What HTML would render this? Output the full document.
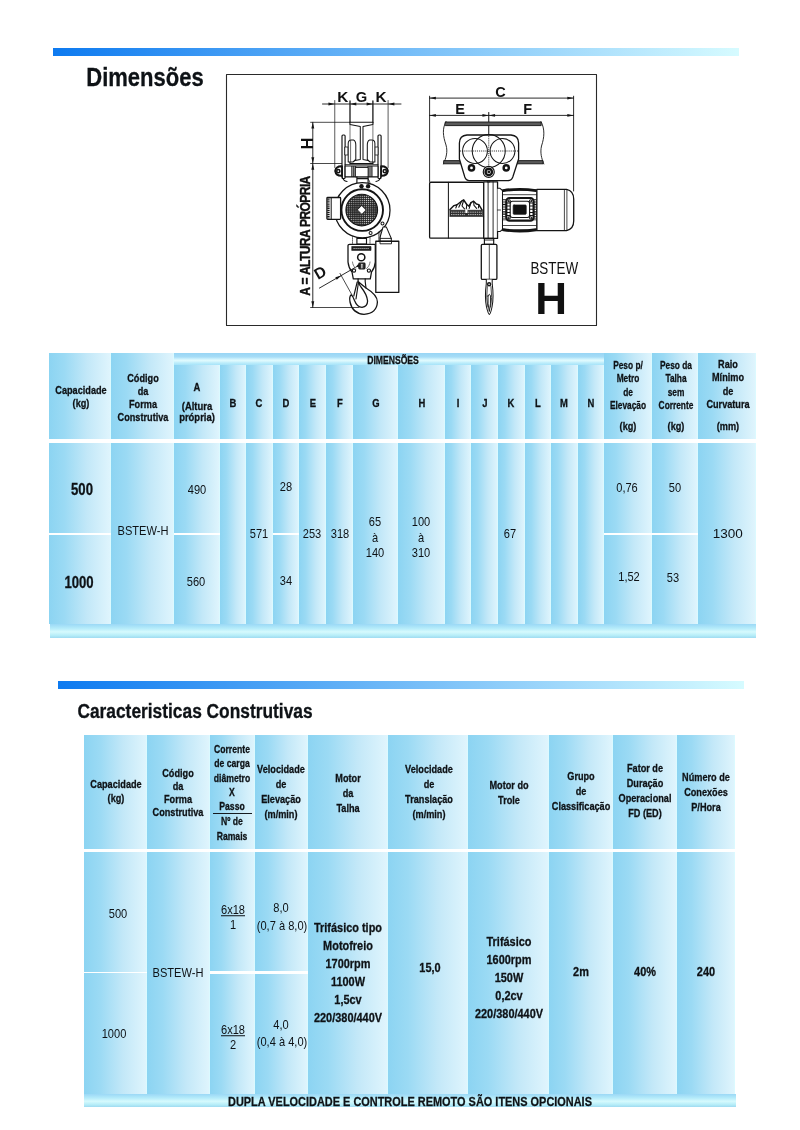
<!DOCTYPE html>
<html lang="pt"><head><meta charset="utf-8"><title>Dimensões</title>
<style>
html,body{margin:0;padding:0;background:#fff;}
body{width:800px;height:1130px;position:relative;overflow:hidden;font-family:"Liberation Sans",sans-serif;color:#0e1216;}
.t{position:absolute;white-space:nowrap;text-align:center;line-height:1.15;}
.c{position:absolute;background:linear-gradient(90deg,#8cd4f2 0%,#9bdaf4 25%,#c3e8f8 62%,#e0f5fd 100%);box-shadow:inset -1px 0 0 rgba(218,251,255,0.9);}
.bar{position:absolute;}
.hb{position:absolute;background:linear-gradient(180deg,#9bd8f6 0%,#b4ebfa 30%,#d6fafd 56%,#b6edf8 82%,#9fdbf1 100%);}
svg{position:absolute;left:0;top:0;}
#pg{position:absolute;left:0;top:0;width:800px;height:1130px;will-change:transform;}
</style></head><body><div id="pg">

<div class="bar" style="left:53px;top:47.5px;width:686px;height:8px;background:linear-gradient(90deg,#0d7af0,#d6fbff)"></div>
<div class="bar" style="left:58px;top:681px;width:686px;height:8.3px;background:linear-gradient(90deg,#0d7af0,#d6fbff)"></div>
<div class="t" style="left:145.2px;top:76.6px;font-size:26.5px;font-weight:700;-webkit-text-stroke:0.3px #0e1216;transform:translate(-50%,-50%) scaleX(0.831);">Dimensões</div>
<div class="t" style="left:195px;top:710.9px;font-size:20px;font-weight:700;-webkit-text-stroke:0.3px #0e1216;transform:translate(-50%,-50%) scaleX(0.867);">Caracteristicas Construtivas</div>
<div class="c" style="left:49.3px;top:353px;width:62.10000000000001px;height:86px"></div>
<div class="c" style="left:111.4px;top:353px;width:62.79999999999998px;height:86px"></div>
<div class="c" style="left:174.2px;top:364.5px;width:45.400000000000006px;height:74.5px"></div>
<div class="c" style="left:219.6px;top:364.5px;width:26.30000000000001px;height:74.5px"></div>
<div class="c" style="left:245.9px;top:364.5px;width:26.700000000000017px;height:74.5px"></div>
<div class="c" style="left:272.6px;top:364.5px;width:26.69999999999999px;height:74.5px"></div>
<div class="c" style="left:299.3px;top:364.5px;width:26.599999999999966px;height:74.5px"></div>
<div class="c" style="left:325.9px;top:364.5px;width:26.700000000000045px;height:74.5px"></div>
<div class="c" style="left:352.6px;top:364.5px;width:45.39999999999998px;height:74.5px"></div>
<div class="c" style="left:398px;top:364.5px;width:46.60000000000002px;height:74.5px"></div>
<div class="c" style="left:444.6px;top:364.5px;width:26.799999999999955px;height:74.5px"></div>
<div class="c" style="left:471.4px;top:364.5px;width:26.80000000000001px;height:74.5px"></div>
<div class="c" style="left:498.2px;top:364.5px;width:26.500000000000057px;height:74.5px"></div>
<div class="c" style="left:524.7px;top:364.5px;width:26.699999999999932px;height:74.5px"></div>
<div class="c" style="left:551.4px;top:364.5px;width:26.600000000000023px;height:74.5px"></div>
<div class="c" style="left:578px;top:364.5px;width:26.100000000000023px;height:74.5px"></div>
<div class="c" style="left:604.1px;top:353px;width:47.69999999999993px;height:86px"></div>
<div class="c" style="left:651.8px;top:353px;width:46.60000000000002px;height:86px"></div>
<div class="c" style="left:698.4px;top:353px;width:57.80000000000007px;height:86px"></div>
<div class="hb" style="left:174.2px;top:353px;width:429.90000000000003px;height:11.5px;background:linear-gradient(180deg,#98d5f5 0%,#a6ddf7 33%,#d2f4fd 52%,#e0fafe 64%,#bdedfb 82%,#a6e3f9 100%)"></div>
<div class="c" style="left:49.3px;top:442.7px;width:62.10000000000001px;height:90.30000000000001px"></div>
<div class="c" style="left:49.3px;top:534.7px;width:62.10000000000001px;height:89.29999999999995px"></div>
<div class="c" style="left:111.4px;top:442.7px;width:62.79999999999998px;height:181.3px"></div>
<div class="c" style="left:174.2px;top:442.7px;width:45.400000000000006px;height:90.30000000000001px"></div>
<div class="c" style="left:174.2px;top:534.7px;width:45.400000000000006px;height:89.29999999999995px"></div>
<div class="c" style="left:219.6px;top:442.7px;width:26.30000000000001px;height:181.3px"></div>
<div class="c" style="left:245.9px;top:442.7px;width:26.700000000000017px;height:181.3px"></div>
<div class="c" style="left:272.6px;top:442.7px;width:26.69999999999999px;height:90.30000000000001px"></div>
<div class="c" style="left:272.6px;top:534.7px;width:26.69999999999999px;height:89.29999999999995px"></div>
<div class="c" style="left:299.3px;top:442.7px;width:26.599999999999966px;height:181.3px"></div>
<div class="c" style="left:325.9px;top:442.7px;width:26.700000000000045px;height:181.3px"></div>
<div class="c" style="left:352.6px;top:442.7px;width:45.39999999999998px;height:181.3px"></div>
<div class="c" style="left:398px;top:442.7px;width:46.60000000000002px;height:181.3px"></div>
<div class="c" style="left:444.6px;top:442.7px;width:26.799999999999955px;height:181.3px"></div>
<div class="c" style="left:471.4px;top:442.7px;width:26.80000000000001px;height:181.3px"></div>
<div class="c" style="left:498.2px;top:442.7px;width:26.500000000000057px;height:181.3px"></div>
<div class="c" style="left:524.7px;top:442.7px;width:26.699999999999932px;height:181.3px"></div>
<div class="c" style="left:551.4px;top:442.7px;width:26.600000000000023px;height:181.3px"></div>
<div class="c" style="left:578px;top:442.7px;width:26.100000000000023px;height:181.3px"></div>
<div class="c" style="left:604.1px;top:442.7px;width:47.69999999999993px;height:90.30000000000001px"></div>
<div class="c" style="left:604.1px;top:534.7px;width:47.69999999999993px;height:89.29999999999995px"></div>
<div class="c" style="left:651.8px;top:442.7px;width:46.60000000000002px;height:90.30000000000001px"></div>
<div class="c" style="left:651.8px;top:534.7px;width:46.60000000000002px;height:89.29999999999995px"></div>
<div class="c" style="left:698.4px;top:442.7px;width:57.80000000000007px;height:181.3px"></div>
<div class="hb" style="left:49.5px;top:624px;width:706.5px;height:13.5px"></div>
<div class="t" style="left:80.5px;top:396.5px;font-size:11.5px;font-weight:700;line-height:13px;-webkit-text-stroke:0.3px #0e1216;transform:translate(-50%,-50%) scaleX(0.795);">Capacidade<br>(kg)</div>
<div class="t" style="left:143px;top:397.5px;font-size:11.5px;font-weight:700;line-height:13px;-webkit-text-stroke:0.3px #0e1216;transform:translate(-50%,-50%) scaleX(0.795);">Código<br>da<br>Forma<br>Construtiva</div>
<div class="t" style="left:196.75px;top:387.5px;font-size:11.5px;font-weight:700;-webkit-text-stroke:0.3px #0e1216;transform:translate(-50%,-50%) scaleX(0.82);">A</div>
<div class="t" style="left:196.75px;top:411.7px;font-size:11.5px;font-weight:700;line-height:11.5px;-webkit-text-stroke:0.3px #0e1216;transform:translate(-50%,-50%) scaleX(0.82);">(Altura<br>própria)</div>
<div class="t" style="left:232.5px;top:403.8px;font-size:11.5px;font-weight:700;-webkit-text-stroke:0.3px #0e1216;transform:translate(-50%,-50%) scaleX(0.82);">B</div>
<div class="t" style="left:259px;top:403.8px;font-size:11.5px;font-weight:700;-webkit-text-stroke:0.3px #0e1216;transform:translate(-50%,-50%) scaleX(0.82);">C</div>
<div class="t" style="left:285.75px;top:403.8px;font-size:11.5px;font-weight:700;-webkit-text-stroke:0.3px #0e1216;transform:translate(-50%,-50%) scaleX(0.82);">D</div>
<div class="t" style="left:312.5px;top:403.8px;font-size:11.5px;font-weight:700;-webkit-text-stroke:0.3px #0e1216;transform:translate(-50%,-50%) scaleX(0.82);">E</div>
<div class="t" style="left:339.5px;top:403.8px;font-size:11.5px;font-weight:700;-webkit-text-stroke:0.3px #0e1216;transform:translate(-50%,-50%) scaleX(0.82);">F</div>
<div class="t" style="left:375.5px;top:403.8px;font-size:11.5px;font-weight:700;-webkit-text-stroke:0.3px #0e1216;transform:translate(-50%,-50%) scaleX(0.82);">G</div>
<div class="t" style="left:421.75px;top:403.8px;font-size:11.5px;font-weight:700;-webkit-text-stroke:0.3px #0e1216;transform:translate(-50%,-50%) scaleX(0.82);">H</div>
<div class="t" style="left:458px;top:403.8px;font-size:11.5px;font-weight:700;-webkit-text-stroke:0.3px #0e1216;transform:translate(-50%,-50%) scaleX(0.82);">I</div>
<div class="t" style="left:485px;top:403.8px;font-size:11.5px;font-weight:700;-webkit-text-stroke:0.3px #0e1216;transform:translate(-50%,-50%) scaleX(0.82);">J</div>
<div class="t" style="left:511.25px;top:403.8px;font-size:11.5px;font-weight:700;-webkit-text-stroke:0.3px #0e1216;transform:translate(-50%,-50%) scaleX(0.82);">K</div>
<div class="t" style="left:537.5px;top:403.8px;font-size:11.5px;font-weight:700;-webkit-text-stroke:0.3px #0e1216;transform:translate(-50%,-50%) scaleX(0.82);">L</div>
<div class="t" style="left:564.25px;top:403.8px;font-size:11.5px;font-weight:700;-webkit-text-stroke:0.3px #0e1216;transform:translate(-50%,-50%) scaleX(0.82);">M</div>
<div class="t" style="left:591.25px;top:403.8px;font-size:11.5px;font-weight:700;-webkit-text-stroke:0.3px #0e1216;transform:translate(-50%,-50%) scaleX(0.82);">N</div>
<div class="t" style="left:393px;top:360px;font-size:10.5px;font-weight:700;-webkit-text-stroke:0.3px #0e1216;transform:translate(-50%,-50%) scaleX(0.82);">DIMENSÕES</div>
<div class="t" style="left:628px;top:385.2px;font-size:11.5px;font-weight:700;line-height:13.2px;-webkit-text-stroke:0.3px #0e1216;transform:translate(-50%,-50%) scaleX(0.725);">Peso p/<br>Metro<br>de<br>Elevação</div>
<div class="t" style="left:628px;top:426.6px;font-size:11.5px;font-weight:700;-webkit-text-stroke:0.3px #0e1216;transform:translate(-50%,-50%) scaleX(0.795);">(kg)</div>
<div class="t" style="left:675.5px;top:385.2px;font-size:11.5px;font-weight:700;line-height:13.2px;-webkit-text-stroke:0.3px #0e1216;transform:translate(-50%,-50%) scaleX(0.725);">Peso da<br>Talha<br>sem<br>Corrente</div>
<div class="t" style="left:675.5px;top:426.6px;font-size:11.5px;font-weight:700;-webkit-text-stroke:0.3px #0e1216;transform:translate(-50%,-50%) scaleX(0.795);">(kg)</div>
<div class="t" style="left:727.5px;top:385px;font-size:11.5px;font-weight:700;line-height:13.3px;-webkit-text-stroke:0.3px #0e1216;transform:translate(-50%,-50%) scaleX(0.795);">Raio<br>Mínimo<br>de<br>Curvatura</div>
<div class="t" style="left:727.5px;top:426.6px;font-size:11.5px;font-weight:700;-webkit-text-stroke:0.3px #0e1216;transform:translate(-50%,-50%) scaleX(0.795);">(mm)</div>
<div class="t" style="left:82px;top:490px;font-size:16px;font-weight:700;-webkit-text-stroke:0.3px #0e1216;transform:translate(-50%,-50%) scaleX(0.82);">500</div>
<div class="t" style="left:79px;top:582.5px;font-size:16px;font-weight:700;-webkit-text-stroke:0.3px #0e1216;transform:translate(-50%,-50%) scaleX(0.82);">1000</div>
<div class="t" style="left:142.5px;top:530.5px;font-size:13.5px;font-weight:400;transform:translate(-50%,-50%) scaleX(0.82);">BSTEW-H</div>
<div class="t" style="left:197px;top:490px;font-size:13.5px;font-weight:400;transform:translate(-50%,-50%) scaleX(0.82);">490</div>
<div class="t" style="left:195.75px;top:582px;font-size:13.5px;font-weight:400;transform:translate(-50%,-50%) scaleX(0.82);">560</div>
<div class="t" style="left:258.5px;top:534px;font-size:13.5px;font-weight:400;transform:translate(-50%,-50%) scaleX(0.82);">571</div>
<div class="t" style="left:285.6px;top:487.3px;font-size:13.5px;font-weight:400;transform:translate(-50%,-50%) scaleX(0.82);">28</div>
<div class="t" style="left:285.6px;top:581.3px;font-size:13.5px;font-weight:400;transform:translate(-50%,-50%) scaleX(0.82);">34</div>
<div class="t" style="left:312.2px;top:534px;font-size:13.5px;font-weight:400;transform:translate(-50%,-50%) scaleX(0.82);">253</div>
<div class="t" style="left:340.2px;top:534px;font-size:13.5px;font-weight:400;transform:translate(-50%,-50%) scaleX(0.82);">318</div>
<div class="t" style="left:375px;top:537px;font-size:13.5px;font-weight:400;line-height:15.5px;transform:translate(-50%,-50%) scaleX(0.82);">65<br>à<br>140</div>
<div class="t" style="left:421.4px;top:537px;font-size:13.5px;font-weight:400;line-height:15.5px;transform:translate(-50%,-50%) scaleX(0.82);">100<br>à<br>310</div>
<div class="t" style="left:510.2px;top:534px;font-size:13.5px;font-weight:400;transform:translate(-50%,-50%) scaleX(0.82);">67</div>
<div class="t" style="left:627px;top:488.2px;font-size:13.5px;font-weight:400;transform:translate(-50%,-50%) scaleX(0.82);">0,76</div>
<div class="t" style="left:629px;top:576.5px;font-size:13.5px;font-weight:400;transform:translate(-50%,-50%) scaleX(0.82);">1,52</div>
<div class="t" style="left:674.6px;top:488.2px;font-size:13.5px;font-weight:400;transform:translate(-50%,-50%) scaleX(0.82);">50</div>
<div class="t" style="left:673px;top:577.5px;font-size:13.5px;font-weight:400;transform:translate(-50%,-50%) scaleX(0.82);">53</div>
<div class="t" style="left:727.8px;top:534px;font-size:13.5px;font-weight:400;transform:translate(-50%,-50%) scaleX(1);">1300</div>
<div class="c" style="left:84px;top:734.5px;width:63px;height:114.0px"></div>
<div class="c" style="left:147px;top:734.5px;width:63px;height:114.0px"></div>
<div class="c" style="left:210px;top:734.5px;width:44.69999999999999px;height:114.0px"></div>
<div class="c" style="left:254.7px;top:734.5px;width:53.30000000000001px;height:114.0px"></div>
<div class="c" style="left:308px;top:734.5px;width:80px;height:114.0px"></div>
<div class="c" style="left:388px;top:734.5px;width:80.30000000000001px;height:114.0px"></div>
<div class="c" style="left:468.3px;top:734.5px;width:80.49999999999994px;height:114.0px"></div>
<div class="c" style="left:548.8px;top:734.5px;width:64.0px;height:114.0px"></div>
<div class="c" style="left:612.8px;top:734.5px;width:64.0px;height:114.0px"></div>
<div class="c" style="left:676.8px;top:734.5px;width:58.700000000000045px;height:114.0px"></div>
<div class="c" style="left:84px;top:852px;width:63px;height:120px"></div>
<div class="c" style="left:84px;top:973.2px;width:63px;height:120.39999999999986px"></div>
<div class="c" style="left:147px;top:852px;width:63px;height:241.5999999999999px"></div>
<div class="c" style="left:210px;top:852px;width:44.69999999999999px;height:118.79999999999995px"></div>
<div class="c" style="left:210px;top:974.3px;width:44.69999999999999px;height:119.29999999999995px"></div>
<div class="c" style="left:254.7px;top:852px;width:53.30000000000001px;height:118.79999999999995px"></div>
<div class="c" style="left:254.7px;top:974.3px;width:53.30000000000001px;height:119.29999999999995px"></div>
<div class="c" style="left:308px;top:852px;width:80px;height:241.5999999999999px"></div>
<div class="c" style="left:388px;top:852px;width:80.30000000000001px;height:241.5999999999999px"></div>
<div class="c" style="left:468.3px;top:852px;width:80.49999999999994px;height:241.5999999999999px"></div>
<div class="c" style="left:548.8px;top:852px;width:64.0px;height:241.5999999999999px"></div>
<div class="c" style="left:612.8px;top:852px;width:64.0px;height:241.5999999999999px"></div>
<div class="c" style="left:676.8px;top:852px;width:58.700000000000045px;height:241.5999999999999px"></div>
<div class="hb" style="left:84px;top:1093.6px;width:651.5px;height:13.4px"></div>
<div class="t" style="left:115.75px;top:792px;font-size:11.5px;font-weight:700;line-height:13.7px;-webkit-text-stroke:0.3px #0e1216;transform:translate(-50%,-50%) scaleX(0.795);">Capacidade<br>(kg)</div>
<div class="t" style="left:178.25px;top:792.7px;font-size:11.5px;font-weight:700;line-height:13.2px;-webkit-text-stroke:0.3px #0e1216;transform:translate(-50%,-50%) scaleX(0.795);">Código<br>da<br>Forma<br>Construtiva</div>
<div class="t" style="left:232px;top:778.2px;font-size:11.5px;font-weight:700;line-height:14.3px;-webkit-text-stroke:0.3px #0e1216;transform:translate(-50%,-50%) scaleX(0.75);">Corrente<br>de carga<br>diâmetro<br>X<br>Passo</div>
<div style="position:absolute;left:212.5px;top:813.3px;width:39px;height:1.2px;background:#151a1f"></div>
<div class="t" style="left:232px;top:828.4px;font-size:11.5px;font-weight:700;line-height:14.3px;-webkit-text-stroke:0.3px #0e1216;transform:translate(-50%,-50%) scaleX(0.75);">Nº de<br>Ramais</div>
<div class="t" style="left:281.25px;top:791.5px;font-size:11.5px;font-weight:700;line-height:15.1px;-webkit-text-stroke:0.3px #0e1216;transform:translate(-50%,-50%) scaleX(0.795);">Velocidade<br>de<br>Elevação<br>(m/min)</div>
<div class="t" style="left:348px;top:792.5px;font-size:11.5px;font-weight:700;line-height:15px;-webkit-text-stroke:0.3px #0e1216;transform:translate(-50%,-50%) scaleX(0.795);">Motor<br>da<br>Talha</div>
<div class="t" style="left:428.75px;top:791.5px;font-size:11.5px;font-weight:700;line-height:15.1px;-webkit-text-stroke:0.3px #0e1216;transform:translate(-50%,-50%) scaleX(0.795);">Velocidade<br>de<br>Translação<br>(m/min)</div>
<div class="t" style="left:508.75px;top:792.2px;font-size:11.5px;font-weight:700;line-height:14.5px;-webkit-text-stroke:0.3px #0e1216;transform:translate(-50%,-50%) scaleX(0.795);">Motor do<br>Trole</div>
<div class="t" style="left:581.25px;top:791.25px;font-size:11.5px;font-weight:700;line-height:15px;-webkit-text-stroke:0.3px #0e1216;transform:translate(-50%,-50%) scaleX(0.795);">Grupo<br>de<br>Classificação</div>
<div class="t" style="left:644.5px;top:791.25px;font-size:11.5px;font-weight:700;line-height:15px;-webkit-text-stroke:0.3px #0e1216;transform:translate(-50%,-50%) scaleX(0.795);">Fator de<br>Duração<br>Operacional<br>FD (ED)</div>
<div class="t" style="left:706.25px;top:792.3px;font-size:11.5px;font-weight:700;line-height:14.8px;-webkit-text-stroke:0.3px #0e1216;transform:translate(-50%,-50%) scaleX(0.795);">Número de<br>Conexões<br>P/Hora</div>
<div class="t" style="left:117.5px;top:914.4px;font-size:13.5px;font-weight:400;transform:translate(-50%,-50%) scaleX(0.82);">500</div>
<div class="t" style="left:113.5px;top:1034px;font-size:13.5px;font-weight:400;transform:translate(-50%,-50%) scaleX(0.82);">1000</div>
<div class="t" style="left:177.8px;top:973.4px;font-size:13.5px;font-weight:400;transform:translate(-50%,-50%) scaleX(0.82);">BSTEW-H</div>
<div class="t" style="left:232.8px;top:909.6px;font-size:13.5px;font-weight:400;transform:translate(-50%,-50%) scaleX(0.82);"><u>6x18</u></div>
<div class="t" style="left:232.5px;top:925px;font-size:13.5px;font-weight:400;transform:translate(-50%,-50%) scaleX(0.82);">1</div>
<div class="t" style="left:232.8px;top:1030px;font-size:13.5px;font-weight:400;transform:translate(-50%,-50%) scaleX(0.82);"><u>6x18</u></div>
<div class="t" style="left:232.5px;top:1045.3px;font-size:13.5px;font-weight:400;transform:translate(-50%,-50%) scaleX(0.82);">2</div>
<div class="t" style="left:280.5px;top:907.8px;font-size:13.5px;font-weight:400;transform:translate(-50%,-50%) scaleX(0.82);">8,0</div>
<div class="t" style="left:281.5px;top:926px;font-size:13.5px;font-weight:400;transform:translate(-50%,-50%) scaleX(0.82);">(0,7 à 8,0)</div>
<div class="t" style="left:280.5px;top:1025.3px;font-size:13.5px;font-weight:400;transform:translate(-50%,-50%) scaleX(0.82);">4,0</div>
<div class="t" style="left:281.5px;top:1041.5px;font-size:13.5px;font-weight:400;transform:translate(-50%,-50%) scaleX(0.82);">(0,4 à 4,0)</div>
<div class="t" style="left:347.8px;top:973px;font-size:13.5px;font-weight:700;line-height:18px;-webkit-text-stroke:0.3px #0e1216;transform:translate(-50%,-50%) scaleX(0.81);">Trifásico tipo<br>Motofreio<br>1700rpm<br>1100W<br>1,5cv<br>220/380/440V</div>
<div class="t" style="left:429.5px;top:968.3px;font-size:13.5px;font-weight:700;-webkit-text-stroke:0.3px #0e1216;transform:translate(-50%,-50%) scaleX(0.81);">15,0</div>
<div class="t" style="left:509.2px;top:977.9px;font-size:13.5px;font-weight:700;line-height:18px;-webkit-text-stroke:0.3px #0e1216;transform:translate(-50%,-50%) scaleX(0.81);">Trifásico<br>1600rpm<br>150W<br>0,2cv<br>220/380/440V</div>
<div class="t" style="left:580.5px;top:972px;font-size:13.5px;font-weight:700;-webkit-text-stroke:0.3px #0e1216;transform:translate(-50%,-50%) scaleX(0.81);">2m</div>
<div class="t" style="left:644.7px;top:972px;font-size:13.5px;font-weight:700;-webkit-text-stroke:0.3px #0e1216;transform:translate(-50%,-50%) scaleX(0.81);">40%</div>
<div class="t" style="left:705.5px;top:972px;font-size:13.5px;font-weight:700;-webkit-text-stroke:0.3px #0e1216;transform:translate(-50%,-50%) scaleX(0.81);">240</div>
<div class="t" style="left:410.3px;top:1101.6px;font-size:13.5px;font-weight:700;-webkit-text-stroke:0.3px #0e1216;transform:translate(-50%,-50%) scaleX(0.81);">DUPLA VELOCIDADE E CONTROLE REMOTO SÃO ITENS OPCIONAIS</div>
<svg width="800" height="1130" viewBox="0 0 800 1130" font-family="Liberation Sans, sans-serif" fill="none" stroke="#141414" stroke-width="1.15" stroke-linecap="round" stroke-linejoin="round">
<rect x="226.5" y="74.5" width="370" height="251" fill="#fff" stroke="#2a2a2a" stroke-width="1.1"/>
<g id="leftview">
<path d="M322.5 104L401 104" stroke-width="0.90"/>
<path d="M334.75 100.5L334.75 167.5" stroke-width="0.70"/>
<path d="M388.1 100.5L388.1 167.5" stroke-width="0.70"/>
<path d="M350 101L350 122.3" stroke-width="1.28"/>
<path d="M372.9 101L372.9 122.3" stroke-width="1.28"/>
<path d="M350 122.3L350 164" stroke-width="0.58"/>
<path d="M372.9 122.3L372.9 164" stroke-width="0.58"/>
<path d="M334.75 104.00L328.45 105.45L328.45 102.55Z" fill="#141414" stroke="none"/>
<path d="M350.00 104.00L356.30 102.55L356.30 105.45Z" fill="#141414" stroke="none"/>
<path d="M372.90 104.00L366.60 105.45L366.60 102.55Z" fill="#141414" stroke="none"/>
<path d="M388.10 104.00L394.40 102.55L394.40 105.45Z" fill="#141414" stroke="none"/>
<text transform="translate(342.75 102) scale(1.08 1)" font-size="14.2" font-weight="700" text-anchor="middle" fill="#111" stroke="none">K</text>
<text transform="translate(361.5 102) scale(1.04 1)" font-size="14.2" font-weight="700" text-anchor="middle" fill="#111" stroke="none">G</text>
<text transform="translate(381 102) scale(1.08 1)" font-size="14.2" font-weight="700" text-anchor="middle" fill="#111" stroke="none">K</text>
<path d="M310.6 122.3L350 122.3" stroke-width="0.77"/>
<path d="M310.6 163.5L342 163.5" stroke-width="0.77"/>
<path d="M312.8 122.3L312.8 307.5" stroke-width="0.90"/>
<path d="M312.80 122.30L314.25 128.60L311.35 128.60Z" fill="#141414" stroke="none"/>
<path d="M312.80 163.50L311.35 157.20L314.25 157.20Z" fill="#141414" stroke="none"/>
<path d="M312.80 163.50L314.25 169.80L311.35 169.80Z" fill="#141414" stroke="none"/>
<path d="M312.80 307.50L311.35 301.20L314.25 301.20Z" fill="#141414" stroke="none"/>
<text transform="translate(312.7 143.4) rotate(-90)" font-size="16" font-weight="700" text-anchor="middle" fill="#111" stroke="none">H</text>
<text transform="translate(309.9 236) rotate(-90) scale(0.85 1)" font-size="14.3" font-weight="700" letter-spacing="-0.8" word-spacing="1" text-anchor="middle" fill="#111" stroke="#111" stroke-width="0.38">A = ALTURA PRÓPRIA</text>
<path d="M350 122.3H372.9V124.6L363 126.4V159.6L372.9 161.4V163.5H350V161.4L360.3 159.6V126.4L350 124.6Z" fill="#fff" stroke-width="1.02"/>
<rect x="342" y="135" width="3.1" height="43.5" rx="1" fill="#fff" stroke-width="1.15"/>
<rect x="378" y="135" width="3.1" height="43.5" rx="1" fill="#fff" stroke-width="1.15"/>
<rect x="345.1" y="147" width="3" height="8" fill="#fff" stroke-width="0.77"/>
<rect x="375" y="147" width="3" height="8" fill="#fff" stroke-width="0.77"/>
<path d="M348.2 162V143.5Q348.2 140 351.5 140H353.5Q355.8 141 355.8 145V159.5L353 162Z" fill="#fff" stroke-width="1.02"/>
<path d="M374.9 162V143.5Q374.9 140 371.6 140H369.6Q367.3 141 367.3 145V159.5L370.1 162Z" fill="#fff" stroke-width="1.02"/>
<path d="M350.6 141L350.6 161.5" stroke-width="0.64"/>
<path d="M372.5 141L372.5 161.5" stroke-width="0.64"/>
<rect x="345.1" y="166" width="32.9" height="10.8" fill="#fff" stroke-width="1.15"/>
<path d="M345.1 164.6L378 164.6" stroke-width="0.77"/>
<path d="M351.9 166.5L351.9 176.5" stroke-width="1.15"/>
<path d="M353.8 166.5L353.8 176.5" stroke-width="1.15"/>
<path d="M355.6 166.5L355.6 176.5" stroke-width="1.15"/>
<path d="M368.1 166.5L368.1 176.5" stroke-width="1.15"/>
<path d="M370 166.5L370 176.5" stroke-width="1.15"/>
<path d="M371.9 166.5L371.9 176.5" stroke-width="1.15"/>
<rect x="355.6" y="167.5" width="12.5" height="9.3" fill="#fff" stroke-width="0.90"/>
<path d="M342 166.3Q336 166 335.2 171Q336 176 342 175.7Z" fill="#fff" stroke-width="1.92"/>
<circle cx="338.3" cy="171.2" r="1.6" stroke-width="1.54"/>
<path d="M381.1 166.3Q387 166 387.9 171Q387 176 381.1 175.7Z" fill="#fff" stroke-width="1.92"/>
<circle cx="384.8" cy="171.2" r="1.6" stroke-width="1.54"/>
<path d="M342 176Q343 181 347 181.5M381.1 176Q380 181 376 181.5" stroke-width="1.15"/>
<path d="M356.9 176.8V183M368.1 176.8V183M356.9 178.6H368.1" stroke-width="1.15"/>
<path d="M368.1 178.6Q369.8 181 370.3 184.2" stroke-width="0.77"/>
<circle cx="362.4" cy="210.25" r="27.6" fill="#fff" stroke-width="1.28"/>
<circle cx="362.2" cy="210.1" r="20.8" stroke-width="1.92"/>
<circle cx="361.75" cy="210" r="15.8" fill="url(#mesh)" stroke-width="1.15"/>
<path d="M361.75 205.8L365.9 210L361.75 214.2L357.6 210Z" fill="#fff" stroke-width="0.64"/>
<circle cx="361.5" cy="186.3" r="2.2" fill="#141414" stroke="none"/><circle cx="368.1" cy="186.3" r="2.2" fill="#141414" stroke="none"/>
<rect x="326.9" y="197.5" width="13.7" height="21.9" rx="0.8" fill="#fff" stroke-width="1.28"/>
<path d="M331.2 197.5L331.2 219.4" stroke-width="1.02"/>
<path d="M328.4 198.6V218.4" stroke-width="2.43" stroke-dasharray="1.2 0.7" stroke-linecap="butt"/>
<circle cx="382.5" cy="223.5" r="1.5" stroke-width="1.02"/><circle cx="370.6" cy="233.1" r="1.5" stroke-width="1.02"/>
<path d="M383.1 226.9L386.3 226.9L391.3 238.5V241.2H380V237.5Z" fill="#fff" stroke-width="1.02"/>
<path d="M380.3 238.4L391.3 238.4" stroke-width="0.90"/>
<path d="M378.7 232V241M380 232.5V241" stroke-width="0.64" stroke-dasharray="0.8 0.8"/>
<rect x="375.8" y="241.25" width="23" height="51.2" fill="#fff" stroke-width="1.28"/>
<path d="M380 241.2V243.8H391.5V241.2" stroke-width="0.90"/>
<rect x="356.9" y="238.3" width="9.6" height="5.7" fill="#fff" stroke-width="1.15"/>
<path d="M352.5 236.5V262M370 236.5V262" stroke-width="0.64" stroke-dasharray="0.9 0.9"/>
<path d="M349.5 244.3H374.5Q375.3 244.3 375.3 245.5V262Q374.8 268 371.5 272L370.3 278.8H353.3L352 272Q348.6 268 348 262V245.5Q348 244.3 349.5 244.3Z" fill="#fff" stroke-width="1.28"/>
<rect x="352" y="246.5" width="19" height="3.9" fill="#222" stroke-width="0.64"/>
<path d="M353.5 248.45H369.5" stroke="#bbb" stroke-width="1.02" stroke-dasharray="1.2 0.8" stroke-linecap="butt"/>
<circle cx="361.25" cy="257.25" r="3.6" stroke-width="1.54"/>
<path d="M352.5 262Q353 266 356 268.5M370 262Q369.5 266 366.5 268.5" stroke-width="0.64" stroke-dasharray="0.9 0.9"/>
<rect x="358.9" y="263.2" width="6" height="5.6" rx="0.8" fill="#333" stroke-width="1.28"/>
<path d="M361.9 264.2V267.8" stroke="#eee" stroke-width="1.15"/>
<circle cx="354" cy="270.6" r="1.6" stroke-width="1.15"/><circle cx="368.9" cy="270.6" r="1.6" stroke-width="1.15"/>
<path d="M358.1 278.8V281.5Q362 285 366 288Q377.5 295 377.4 302Q376.8 313.5 364 314.3Q352.5 313.5 350 302Q349 296.5 351.2 294.8Q353 296 354.5 300.5Q357 307 362 307.3Q367.5 306.5 367.6 301Q367 294.5 361 287Q358.5 283.5 357.8 281.8" fill="#fff" stroke-width="1.28"/>
<path d="M365.2 278.8V281.5L366 288" stroke-width="1.15"/>
<path d="M357.2 282L353.8 296M358.3 283.5L356 299" stroke-width="1.15"/>
<path d="M310.6 307.5L358.8 307.5" stroke-width="0.77"/>
<path d="M319.4 288.1L355 267.6" stroke-width="0.90"/>
<path d="M341.50 275.40L336.77 279.81L335.32 277.30Z" fill="#141414" stroke="none"/>
<path d="M355.20 267.50L358.37 263.99L359.82 266.50Z" fill="#141414" stroke="none"/>
<path d="M340 273.4L352 295" stroke-width="0.77"/>
<text transform="translate(322.8 277.2) rotate(-30)" font-size="15.5" font-weight="700" text-anchor="middle" fill="#111" stroke="none">D</text>
</g>
<g id="rightview">
<path d="M429.6 96.2L429.6 181.5" stroke-width="0.90"/>
<path d="M573.6 96.2L573.6 191" stroke-width="0.90"/>
<path d="M429.6 98.1L573.6 98.1" stroke-width="0.90"/>
<path d="M429.6 115.4L573.6 115.4" stroke-width="0.90"/>
<path d="M429.60 98.10L435.90 96.65L435.90 99.55Z" fill="#141414" stroke="none"/>
<path d="M573.60 98.10L567.30 99.55L567.30 96.65Z" fill="#141414" stroke="none"/>
<path d="M429.60 115.40L435.90 113.95L435.90 116.85Z" fill="#141414" stroke="none"/>
<path d="M573.60 115.40L567.30 116.85L567.30 113.95Z" fill="#141414" stroke="none"/>
<path d="M488.75 115.40L482.45 116.85L482.45 113.95Z" fill="#141414" stroke="none"/>
<path d="M488.75 115.40L495.05 113.95L495.05 116.85Z" fill="#141414" stroke="none"/>
<path d="M488.75 112.5L488.75 134" stroke-width="1.02"/>
<text x="500.6" y="97.2" font-size="14.5" font-weight="700" text-anchor="middle" fill="#111" stroke="none">C</text>
<text x="460" y="113.9" font-size="14.5" font-weight="700" text-anchor="middle" fill="#111" stroke="none">E</text>
<text x="527.75" y="113.7" font-size="14.5" font-weight="700" text-anchor="middle" fill="#111" stroke="none">F</text>
<path d="M446 121.5C442 129 443 136 446 145C448 152 446 158 443.5 164" stroke-width="0.90"/>
<path d="M541 121.5C545 129 544.5 137 541.5 146C540 153 541.5 158 543.8 164" stroke-width="0.90"/>
<rect x="445.6" y="122" width="95.6" height="3.6" fill="#5a5a5a" stroke-width="0.90"/>
<rect x="444" y="160.6" width="99" height="3.2" fill="#5a5a5a" stroke-width="0.90"/>
<path d="M467 135H511Q518.5 135.5 518.6 143V159L512.8 177Q511.5 180.6 508 180.6H469.5Q466 180.6 464.8 177L459.4 159V143Q459.5 135.5 467 135Z" fill="#fff" stroke-width="1.28"/>
<circle cx="475" cy="151" r="12.4" stroke-width="1.02"/><circle cx="502.5" cy="151" r="12.4" stroke-width="1.02"/><circle cx="488.75" cy="151" r="16.5" stroke-width="1.02"/>
<path d="M460 151H518M488.75 134V170" stroke-width="0.96" stroke-dasharray="0.9 1.0" stroke-linecap="butt"/>
<circle cx="471.5" cy="167.9" r="2.6" stroke-width="2.43"/>
<circle cx="506.25" cy="167.9" r="2.6" stroke-width="2.43"/>
<circle cx="488.75" cy="171.9" r="5.5" fill="#fff" stroke-width="1.15"/><circle cx="488.75" cy="171.9" r="3.2" stroke-width="2.43"/><circle cx="488.75" cy="171.9" r="0.8" fill="#141414"/>
<rect x="429.6" y="182.25" width="54.2" height="55.9" rx="1.2" fill="#fff" stroke-width="1.28"/>
<path d="M448.4 182.25L448.4 238.1" stroke-width="1.02"/>
<rect x="483.75" y="181.8" width="13.8" height="56.6" fill="#fff" stroke-width="1.28"/>
<path d="M488.1 181.8L488.1 238.4" stroke-width="0.90"/>
<path d="M493.1 181.8L493.1 238.4" stroke-width="0.90"/>
<rect x="487.7" y="180.6" width="2.2" height="1.6" stroke-width="0.64"/>
<path d="M497.5 188.3H500L502.5 190.5V229.5L500 231.6H497.5" fill="#fff" stroke-width="1.02"/>
<path d="M497.5 210L500.5 210" stroke-width="0.77"/>
<rect x="502.5" y="190" width="34.4" height="40" fill="#fff" stroke-width="1.02"/>
<path d="M503.5 190.6Q519.7 188.2 536 190.6M503.5 229.8Q519.7 232.2 536 229.8" stroke-width="2.94"/>
<path d="M503 194.7L536.5 194.7" stroke-width="0.77"/>
<path d="M503 225.5L536.5 225.5" stroke-width="0.77"/>
<path d="M504.8 199V221M534.6 199V221" stroke-width="4.35" stroke-dasharray="0.8 0.9" stroke-linecap="butt"/>
<rect x="506.3" y="198" width="27.3" height="22.6" rx="3.2" fill="#fff" stroke-width="2.18"/>
<path d="M506.5 203H512M506.5 206H512M506.5 209.2H512M506.5 212.5H512M506.5 215.5H512M527.5 203H533.5M527.5 206H533.5M527.5 209.2H533.5M527.5 212.5H533.5M527.5 215.5H533.5" stroke-width="1.02"/>
<rect x="510.2" y="201.2" width="19.4" height="16.3" rx="2.2" fill="#fff" stroke-width="1.15"/>
<rect x="513.2" y="205" width="13" height="9.3" rx="0.8" fill="#111" stroke-width="0.77"/>
<circle cx="509.2" cy="200.8" r="1.1" stroke-width="1.02"/>
<circle cx="530.6" cy="200.8" r="1.1" stroke-width="1.02"/>
<circle cx="509.2" cy="217.8" r="1.1" stroke-width="1.02"/>
<circle cx="530.6" cy="217.8" r="1.1" stroke-width="1.02"/>
<path d="M536.9 189.4H566.5Q573.7 191 573.7 199V221Q573.7 229 566.5 230.6H536.9Z" fill="#fff" stroke-width="1.28"/>
<path d="M564.4 189.4L564.4 230.6" stroke-width="0.77"/>
<path d="M566.9 189.6L566.9 230.4" stroke-width="0.77"/>
<path d="M450 209.6L454 205.6L457 204.8L461.5 201.2L463.7 200L466.8 204.5L469 206.2L471 202.6L473.6 201.2L476.4 204L478.8 204.6L482 209.8" stroke-width="1.47"/>
<path d="M457 204.8L455.8 208M461.5 201.2L458.8 207.2M463.7 200L462 206L464.5 208.8M466.8 204.5L466.3 208.6M471 202.6L469.2 208.4M473.6 201.2L474 205.4L476.6 208.4M478.8 204.6L478.4 208" stroke-width="1.09"/>
<rect x="450" y="210.2" width="32.6" height="6.3" fill="#2d2d2d" stroke-width="0.51"/>
<path d="M451 212.2H465M468 212.2H482M451 214.6H465M468 214.6H482" stroke="#ccc" stroke-width="0.90" stroke-dasharray="1.4 0.8" stroke-linecap="butt"/>
<rect x="465.3" y="209.8" width="2.2" height="3.2" fill="#fff" stroke="none"/>
<path d="M483 216.7L483.7 216.7" stroke-width="0.64"/>
<rect x="484.4" y="238.3" width="9.3" height="6" fill="#fff" stroke-width="1.15"/>
<path d="M484.4 240L493.7 240" stroke-width="0.90"/>
<rect x="481.3" y="244.4" width="15.6" height="35" rx="1.2" fill="#fff" stroke-width="1.28"/>
<path d="M489.3 244.4L489.3 279.4" stroke-width="0.77"/>
<path d="M486.3 279.4V283.5Q484.5 297 486.5 307Q488.2 314 489.3 314.4Q490.6 314 492 307Q494 297 492.2 283.5V279.4" fill="#fff" stroke-width="1.02"/>
<circle cx="489.1" cy="284.3" r="1.5" stroke-width="1.41"/>
<path d="M487.3 286.5Q485.8 298 487.8 307M491 286.5Q492.6 298 490.6 307" stroke-width="0.77"/>
<path d="M488 296Q489.3 292.5 490.5 296Q491 304 489.3 311.5Q487.5 304 488 296Z" stroke-width="0.90"/>
</g>
<text transform="translate(554.3 273.6) scale(0.82 1)" font-size="16.4" font-weight="400" text-anchor="middle" fill="#111" stroke="none">BSTEW</text>
<text x="551.2" y="314.3" font-size="44" font-weight="700" text-anchor="middle" fill="#111" stroke="none">H</text>
<defs><pattern id="mesh" width="2.1" height="2.1" patternUnits="userSpaceOnUse"><rect width="2.1" height="2.1" fill="#262626" stroke="none"/><circle cx="1.05" cy="1.05" r="0.55" fill="#dcdcdc" stroke="none"/></pattern></defs>
</svg>
</div></body></html>
